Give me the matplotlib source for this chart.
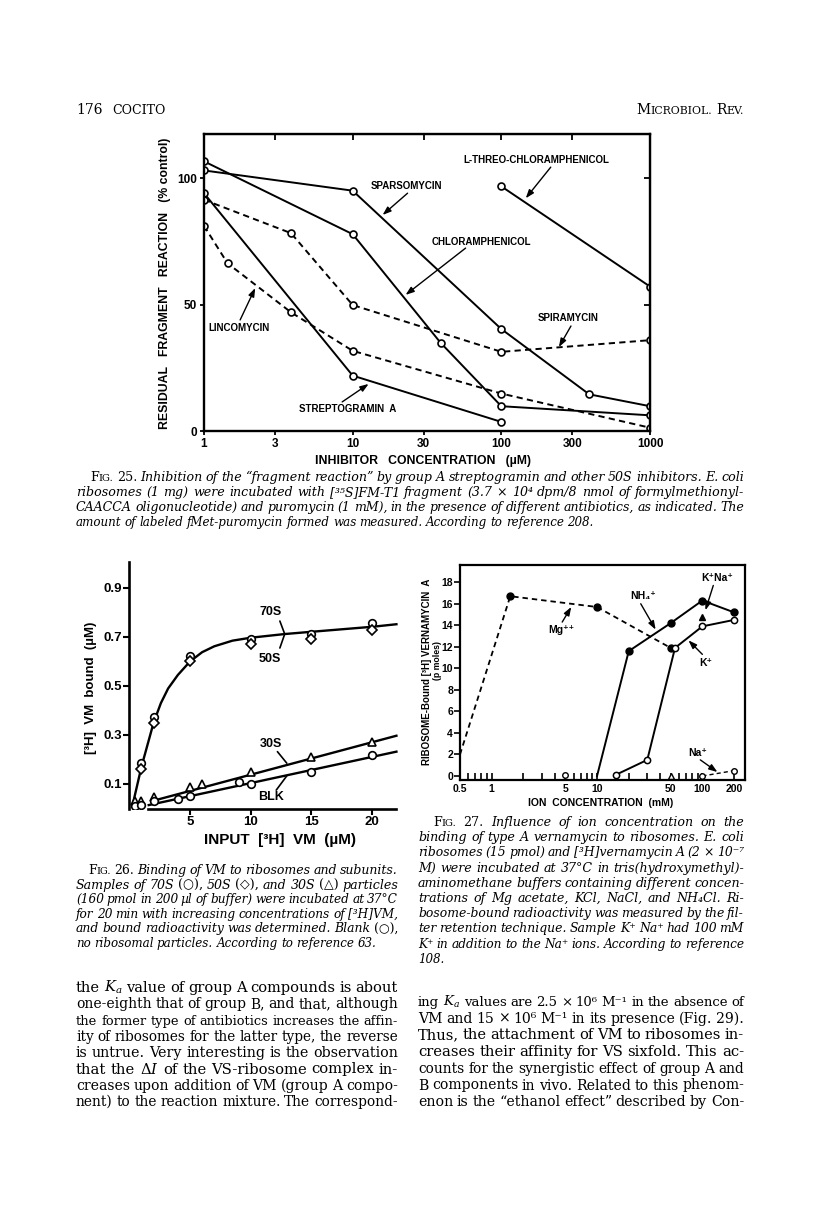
import numpy as np
import matplotlib
matplotlib.use("Agg")
import matplotlib.pyplot as plt

W, H = 816, 1218
SANS = ['Liberation Sans', 'DejaVu Sans']
SERIF = ['DejaVu Serif', 'DejaVu Sans']
plt.rcParams['mathtext.fontset'] = 'dejavuserif'

# --- Fig. 25 data: residual fragment reaction (% control) vs inhibitor (uM) ---
conc_spars = [1, 10, 100, 390, 1000]
res_spars = [103, 95, 40.3, 14.5, 9.8]
conc_chlor = [1, 10, 39, 100, 1000]
res_chlor = [106.6, 77.8, 34.9, 9.8, 6.2]
conc_strep = [1, 10, 100]
res_strep = [94, 21.9, 3.6]
conc_spira = [1, 3.85, 10, 100, 1000]
res_spira = [91.4, 78.2, 49.8, 31.3, 35.9]
conc_linco = [1, 1.44, 3.85, 10, 100, 1000]
res_linco = [81.1, 66.3, 46.9, 31.7, 14.8, 1.3]
conc_lthreo = [100, 1000]
res_lthreo = [96.7, 57.1]
ticks25 = [1, 3, 10, 30, 100, 300, 1000]

# --- Fig. 26 data: [3H]VM bound (uM) vs input (uM) ---
vm_in = [1, 2, 5, 10, 15, 20]
bound_70s = [0.185, 0.375, 0.624, 0.692, 0.712, 0.758]
bound_50s = [0.16, 0.35, 0.60, 0.67, 0.69, 0.73]
curve_x = [0.3, 1.0, 2.0, 2.6, 3.2, 4.0, 5.0, 6.0, 7.0, 8.5, 10, 12.8, 15.2, 20.1, 22.0]
curve_y = [0.02, 0.17, 0.35, 0.43, 0.49, 0.545, 0.6, 0.638, 0.662, 0.685, 0.697, 0.712, 0.722, 0.742, 0.752]
s30_x = [0.5, 1.0, 2.0, 5, 6, 10, 15, 20]
s30_y = [0.03, 0.03, 0.045, 0.089, 0.10, 0.147, 0.211, 0.273]
s30_fit_x = [2.0, 22.0]
s30_fit_y = [0.032, 0.297]
blk_x = [0.5, 1.0, 2.0, 4, 5, 9, 10, 15, 20]
blk_y = [0.012, 0.015, 0.03, 0.039, 0.051, 0.11, 0.10, 0.147, 0.22]
blk_fit_x = [1.6, 22.0]
blk_fit_y = [0.014, 0.232]

# --- Fig. 27 data: ribosome-bound VM A (pmol) vs ion concentration (mM) ---
mg_x = [0.5, 1.5, 10, 50]
mg_y = [2.0, 16.7, 15.7, 11.9]
nh4_x = [10, 20, 50, 100, 200]
nh4_y = [0, 11.6, 14.2, 16.3, 15.2]
k_x = [15, 30, 55, 100, 200]
k_y = [0.1, 1.5, 11.9, 13.9, 14.5]
na_x = [5, 50, 100, 200]
na_y = [0.1, 0.0, 0.0, 0.5]
kna_x = [100]
kna_y = [14.8]
ticks27 = [0.5, 1, 5, 10, 50, 100, 200]
labels27 = ['0.5', '1', '5', '10', '50', '100', '200']
minor27 = [0.6, 0.7, 0.8, 0.9, 2, 3, 4, 6, 7, 8, 9, 20, 30, 40, 60, 70, 80, 90]

# --- text of the page ---
cap25 = ['§FIG. ¤25. Inhibition of the “fragment reaction” by group A streptogramin and other 50S inhibitors. E. coli',
         'ribosomes (1 mg) were incubated with [³⁵S]FM-T1 fragment (3.7 × 10⁴ dpm/8 nmol of formylmethionyl-',
         'CAACCA oligonucleotide) and puromycin (1 mM), in the presence of different antibiotics, as indicated. The',
         'amount of labeled fMet-puromycin formed was measured. According to reference 208.']
cap26 = ['§FIG. ¤26. Binding of VM to ribosomes and subunits.',
         'Samples of 70S ¤(○), 50S ¤(◇), and 30S ¤(△) particles',
         '(160 pmol in 200 µl of buffer) were incubated at 37°C',
         'for 20 min with increasing concentrations of [³H]VM,',
         'and bound radioactivity was determined. Blank ¤(○),',
         'no ribosomal particles. According to reference 63.']
cap27 = ['§FIG. ¤27. Influence of ion concentration on the',
         'binding of type A vernamycin to ribosomes. E. coli',
         'ribosomes (15 pmol) and [³H]vernamycin A (2 × 10⁻⁷',
         'M) were incubated at 37°C in tris(hydroxymethyl)-',
         'aminomethane buffers containing different concen-',
         'trations of Mg acetate, KCl, NaCl, and NH₄Cl. Ri-',
         'bosome-bound radioactivity was measured by the fil-',
         'ter retention technique. Sample K⁺ Na⁺ had 100 mM',
         'K⁺ in addition to the Na⁺ ions. According to reference',
         '108.']
left_body = ['the $K_a$ value of group A compounds is about',
             'one-eighth that of group B, and that, although',
             'the former type of antibiotics increases the affin-',
             'ity of ribosomes for the latter type, the reverse',
             'is untrue. Very interesting is the observation',
             'that the Δ$I$ of the VS-ribosome complex in-',
             'creases upon addition of VM (group A compo-',
             'nent) to the reaction mixture. The correspond-']
right_body = ['ing $K_a$ values are 2.5 × 10⁶ M⁻¹ in the absence of',
              'VM and 15 × 10⁶ M⁻¹ in its presence (Fig. 29).',
              'Thus, the attachment of VM to ribosomes in-',
              'creases their affinity for VS sixfold. This ac-',
              'counts for the synergistic effect of group A and',
              'B components in vivo. Related to this phenom-',
              'enon is the “ethanol effect” described by Con-']

fig = plt.figure(figsize=(8.16, 12.18), dpi=100)
R = fig.canvas.get_renderer()


def put_words(line, x0, x1, ybase, size, style, align):
    words = []
    for tok in line.split():
        if tok.startswith('§'):      # small caps
            segs = [(tok[1], size, 'normal'), (tok[2:], size * 0.78, 'normal')]
        elif tok.startswith('¤'):    # roman inside italic
            segs = [(tok[1:], size, 'normal')]
        else:
            segs = [(tok, size, style)]
        words.append([fig.text(0, 0, s, fontsize=sz, fontstyle=st, family=SERIF,
                               va='baseline', ha='left') for s, sz, st in segs])

    def widths():
        return [sum(t.get_window_extent(R).width for t in w) for w in words]
    wd = widths()
    n = len(words)
    avail = x1 - x0
    if align == 'justify' and n > 1:
        # nudge the size a little so the line fills, then spread the gaps
        natural = sum(wd) + 0.27 * size * 100 / 72 * (n - 1)
        k = min(max(avail / natural, 0.9), 1.06)
        for w in words:
            for t in w:
                t.set_fontsize(t.get_fontsize() * k)
        wd = widths()
        gap = (avail - sum(wd)) / (n - 1)
    else:
        gap = 0.28 * size * 100 / 72
    total = sum(wd) + gap * (n - 1)
    x = x1 - total if align == 'right' else x0
    for w, ww in zip(words, wd):
        xx = x
        for t in w:
            t.set_position((xx / W, 1 - ybase / H))
            xx += t.get_window_extent(R).width
        x += ww + gap


def para(lines, x0, x1, ytop, dy, size, style='normal', indent=0, last_left=True):
    for i, line in enumerate(lines):
        align = 'left' if (last_left and i == len(lines) - 1) else 'justify'
        put_words(line, x0 + (indent if i == 0 else 0), x1, ytop + i * dy, size, style, align)


# --- page header ---
put_words('176', 76, 744, 114, 10, 'normal', 'left')
put_words('COCITO', 112, 744, 114, 9, 'normal', 'left')
put_words('§MICROBIOL. §REV.', 76, 744, 114, 10, 'normal', 'right')

AP = dict(arrowstyle='-|>,head_length=0.5,head_width=0.18', color='k', lw=1.0,
          shrinkA=0, shrinkB=0)
LEAD = dict(arrowstyle='-', color='k', lw=1.2, shrinkA=0, shrinkB=0)
lab = dict(ha='center', va='center', weight='bold', family=SANS)

# ================= Fig. 25 =================
ax1 = fig.add_axes([204 / W, 1 - 431 / H, 446 / W, 297 / H])
dash = (3.2, 2.2)
ms1 = dict(marker='o', ms=5, mfc='white', mec='k', mew=1.2, color='k', lw=1.4)
ax1.plot(conc_spars, res_spars, **ms1)
ax1.plot(conc_chlor, res_chlor, **ms1)
ax1.plot(conc_strep, res_strep, **ms1)
ax1.plot(conc_lthreo, res_lthreo, **ms1)
ax1.plot(conc_spira, res_spira, dashes=dash, **ms1)
ax1.plot(conc_linco, res_linco, dashes=dash, **ms1)
ax1.set_xscale('log')
ax1.set_xlim(1, 1000)
ax1.set_ylim(0, 117.4)
ax1.set_xticks(ticks25)
ax1.set_xticklabels([str(t) for t in ticks25])
ax1.minorticks_off()
ax1.set_yticks([0, 50, 100])
ax1.tick_params(direction='out', length=3, width=1.3, labelsize=8.5, pad=2)
for lbl in ax1.get_xticklabels() + ax1.get_yticklabels():
    lbl.set_fontweight('bold')
    lbl.set_family(SANS)
for s in ax1.spines.values():
    s.set_linewidth(1.7)
top = ax1.secondary_xaxis('top')
top.set_xticks([3, 10, 30, 100, 300])
top.minorticks_off()
top.tick_params(direction='in', length=4, width=1.3, labeltop=False)
rgt = ax1.secondary_yaxis('right')
rgt.set_yticks([50, 100])
rgt.tick_params(direction='in', length=4, width=1.3, labelright=False)

ax1.text(171, 107, 'L-THREO-CHLORAMPHENICOL', fontsize=7, **lab)
ax1.annotate('', xy=(146, 92), xytext=(215, 104.3), arrowprops=AP)
ax1.text(23, 96.8, 'SPARSOMYCIN', fontsize=7, **lab)
ax1.annotate('', xy=(15.9, 85.4), xytext=(23.4, 94), arrowprops=AP)
ax1.text(73.8, 74.7, 'CHLORAMPHENICOL', fontsize=7, **lab)
ax1.annotate('', xy=(22.7, 53.8), xytext=(57.5, 72.3), arrowprops=AP)
ax1.text(280, 44.7, 'SPIRAMYCIN', fontsize=7, **lab)
ax1.annotate('', xy=(244, 33.2), xytext=(294, 41.5), arrowprops=AP)
ax1.text(1.72, 40.7, 'LINCOMYCIN', fontsize=7, **lab)
ax1.annotate('', xy=(2.21, 56.5), xytext=(1.75, 43.9), arrowprops=AP)
ax1.text(9.2, 8.7, 'STREPTOGRAMIN  A', fontsize=7, **lab)
ax1.annotate('', xy=(12.8, 18.6), xytext=(8.5, 11.5), arrowprops=AP)

fig.text(165 / W, 1 - 283 / H, 'RESIDUAL   FRAGMENT   REACTION   (% control)', rotation=90,
         fontsize=8.8, **lab)
fig.text(423 / W, 1 - 461 / H, 'INHIBITOR   CONCENTRATION   (µM)', fontsize=8.8, **lab)

para(cap25, 76, 744, 481, 15, 8.6, 'italic', indent=14)

# ================= Fig. 26 =================
ax2 = fig.add_axes([129.3 / W, 1 - 808.5 / H, 273.2 / W, 246.5 / H])
ax2.plot(curve_x, curve_y, color='k', lw=1.7, zorder=2)
ax2.plot(s30_fit_x, s30_fit_y, color='k', lw=1.7, zorder=2)
ax2.plot(blk_fit_x, blk_fit_y, color='k', lw=1.7, zorder=2)
mk2 = dict(ls='none', ms=5.5, mfc='white', mec='k', mew=1.2, zorder=3)
ax2.plot(vm_in, bound_70s, marker='o', **mk2)
ax2.plot(vm_in, bound_50s, marker='D', **{**mk2, 'ms': 4.8})
ax2.plot(s30_x, s30_y, marker='^', **mk2)
ax2.plot(blk_x, blk_y, marker='o', **mk2)
ax2.set_xlim(0, 22.5)
ax2.set_ylim(0, 1.006)
ax2.spines[['top', 'right']].set_visible(False)
ax2.spines['bottom'].set_bounds(1.5, 22)
for s in ax2.spines.values():
    s.set_linewidth(1.9)
ax2.set_xticks([5, 10, 15, 20])
ax2.set_yticks([0.1, 0.3, 0.5, 0.7, 0.9])
ax2.set_yticklabels(['0.1', '0.3', '0.5', '0.7', '0.9'])
ax2.tick_params(direction='out', length=4, width=1.5, labelsize=9.5, pad=1.5)
for lbl in ax2.get_xticklabels() + ax2.get_yticklabels():
    lbl.set_fontweight('bold')
    lbl.set_family(SANS)

ax2.text(11.6, 0.80, '70S', fontsize=9, **lab)
ax2.text(11.6, 0.61, '50S', fontsize=9, **lab)
ax2.annotate('', xy=(12.8, 0.712), xytext=(12.4, 0.765), arrowprops=LEAD)
ax2.annotate('', xy=(12.8, 0.712), xytext=(12.4, 0.655), arrowprops=LEAD)
ax2.text(11.7, 0.263, '30S', fontsize=9, **lab)
ax2.annotate('', xy=(12.97, 0.185), xytext=(12.2, 0.232), arrowprops=LEAD)
ax2.text(11.7, 0.046, 'BLK', fontsize=9, **lab)
ax2.annotate('', xy=(12.97, 0.133), xytext=(12.1, 0.075), arrowprops=LEAD)

fig.text(91 / W, 1 - 688 / H, '[³H]  VM  bound  (µM)', rotation=90, fontsize=9.5, **lab)
fig.text(280 / W, 1 - 840 / H, 'INPUT  [³H]  VM  (µM)', fontsize=11, **lab)

para(cap26, 76, 398, 874, 14.6, 8.6, 'italic', indent=12)

# ================= Fig. 27 =================
ax3 = fig.add_axes([460 / W, 1 - 780 / H, 285 / W, 215 / H])
ax3.plot(mg_x, mg_y, color='k', lw=1.3, dashes=(3, 2.2))
ax3.plot(mg_x[1:], mg_y[1:], ls='none', marker='o', ms=5, color='k')
ax3.plot(nh4_x, nh4_y, color='k', lw=1.4)
ax3.plot(nh4_x[1:], nh4_y[1:], ls='none', marker='o', ms=5, color='k')
ax3.plot(k_x, k_y, color='k', lw=1.4, marker='o', ms=4.5, mfc='white', mec='k', mew=1.1)
ax3.plot(na_x[2:], na_y[2:], color='k', lw=1.0, dashes=(3, 2.2))
ax3.plot([na_x[0], na_x[2], na_x[3]], [na_y[0], na_y[2], na_y[3]], ls='none', marker='o',
         ms=4, mfc='white', mec='k', mew=1.0)
ax3.plot(na_x[1:2], na_y[1:2], ls='none', marker='^', ms=4, mfc='white', mec='k', mew=1.0)
ax3.plot(kna_x, kna_y, ls='none', marker='^', ms=5, color='k')
ax3.set_xscale('log')
ax3.set_xlim(0.521, 254)
ax3.set_ylim(-0.37, 19.6)
ax3.set_xticks(ticks27)
ax3.set_xticklabels(labels27)
ax3.set_xticks(minor27, minor=True)
ax3.xaxis.set_minor_formatter(matplotlib.ticker.NullFormatter())
ax3.set_yticks(np.arange(0, 19, 2))
ax3.tick_params(axis='x', which='both', direction='in', length=5, width=1.2, labelsize=7.5, pad=3)
ax3.tick_params(axis='y', direction='out', length=4, width=1.2, labelsize=7.5, pad=1)
for lbl in ax3.get_xticklabels() + ax3.get_yticklabels():
    lbl.set_fontweight('bold')
    lbl.set_family(SANS)
for s in ax3.spines.values():
    s.set_linewidth(1.6)

ax3.text(139, 18.4, 'K⁺Na⁺', fontsize=7.5, **lab)
ax3.annotate('', xy=(107, 15.4), xytext=(127, 17.7), arrowprops=AP)
ax3.text(27.2, 16.7, 'NH₄⁺', fontsize=7.5, **lab)
ax3.annotate('', xy=(36, 13.6), xytext=(26, 16.0), arrowprops=AP)
ax3.text(4.57, 13.6, 'Mg⁺⁺', fontsize=7.5, **lab)
ax3.annotate('', xy=(5.69, 15.7), xytext=(4.67, 14.3), arrowprops=AP)
ax3.text(107, 10.5, 'K⁺', fontsize=7.5, **lab)
ax3.annotate('', xy=(73.8, 12.6), xytext=(100, 11.3), arrowprops=AP)
ax3.text(89.8, 2.1, 'Na⁺', fontsize=7.5, **lab)
ax3.annotate('', xy=(139, 0.37), xytext=(95.6, 1.5), arrowprops=AP)

fig.text(427 / W, 1 - 672 / H, 'RIBOSOME-Bound [³H] VERNAMYCIN  A', rotation=90, fontsize=7, **lab)
fig.text(437 / W, 1 - 660 / H, '(p moles)', rotation=90, fontsize=6.3, **lab)
fig.text(601 / W, 1 - 803 / H, 'ION  CONCENTRATION  (mM)', fontsize=7.5, **lab)

para(cap27, 418, 744, 826, 15.2, 8.6, 'italic', indent=15)

# --- body text ---
para(left_body, 76, 398, 992, 16.3, 10, last_left=False)
para(right_body, 418, 744, 1006, 16.7, 10, last_left=False)

fig.savefig('out.png', dpi=100, facecolor='white')
